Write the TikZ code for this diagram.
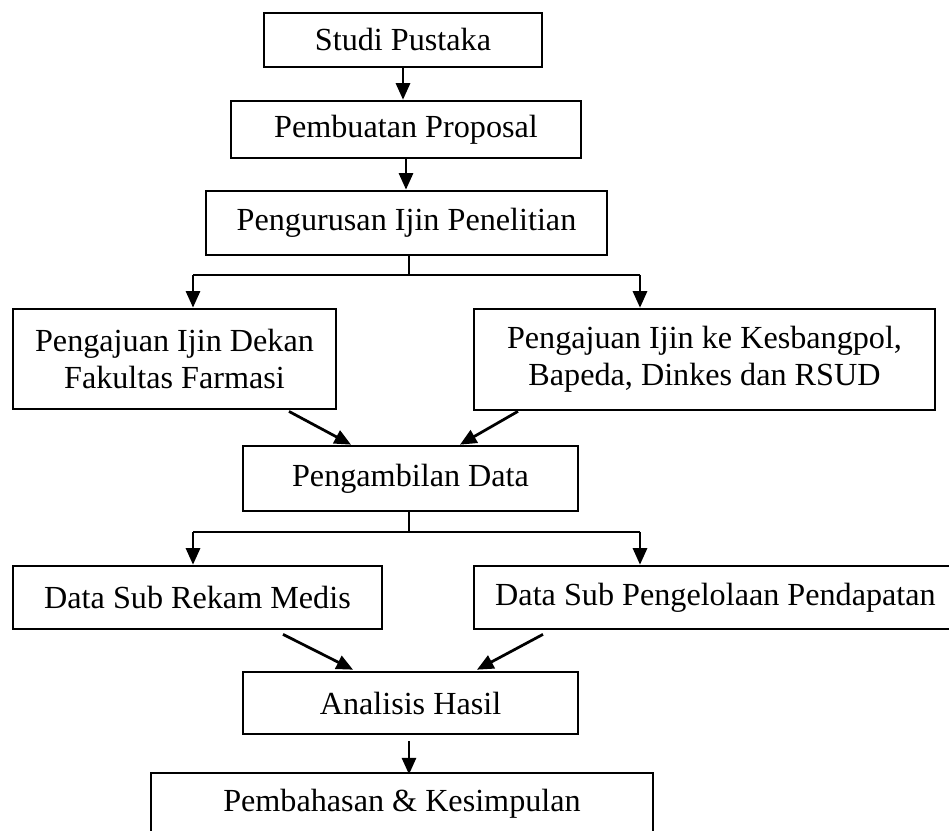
\documentclass[tikz,border=0pt]{standalone}
\usepackage{fontspec}
\setmainfont{Liberation Serif}
\usetikzlibrary{arrows.meta,calc}
\tikzset{
    box/.style={draw, line width=1pt, inner sep=0pt, align=center, font=\fontsize{11.7}{13.6}\selectfont},
    arr/.style={-{Triangle[length=6pt,width=5.2pt]}, line width=.75pt},
    darr/.style={arr, line width=1pt},
    thinline/.style={line width=.45pt}
}
\begin{document}
\begin{tikzpicture}[x=.3636pt, y=-.3636pt]
\useasboundingbox (0,0) rectangle (949,831);
\clip (0,0) rectangle (949,831);

\node[box, minimum width=101.1pt, minimum height=19.6pt](studi) at (403,40) {Studi Pustaka};
\node[box, minimum width=127.3pt, minimum height=20.7pt](proposal) at (406,129.5) {Pembuatan Proposal};
\node[box, minimum width=145.8pt, minimum height=23.3pt](ijin) at (406.5,223) {Pengurusan Ijin Penelitian};
\node[box, minimum width=117.4pt, minimum height=36.4pt](dekan) at (174.5,359) {Pengajuan Ijin Dekan\\Fakultas Farmasi};
\node[box, minimum width=167.6pt, minimum height=36.7pt](kesbang) at (704.5,359.5) {Pengajuan Ijin ke Kesbangpol,\\Bapeda, Dinkes dan RSUD};
\node[box, minimum width=121.8pt, minimum height=23.6pt](ambil) at (410.5,478.5) {Pengambilan Data};
\node[box, minimum width=134.2pt, minimum height=22.9pt](rekam) at (197.5,597.5) {Data Sub Rekam Medis};
\node[box, minimum width=175.6pt, minimum height=22.9pt](kelola) at (715.5,597.5) {Data Sub Pengelolaan Pendapatan};
\node[box, minimum width=121.8pt, minimum height=22.5pt](analisis) at (410.5,703) {Analisis Hasil};
\node[box, minimum width=182.5pt, minimum height=22.5pt](bahas) at (402,804) {Pembahasan \& Kesimpulan};

\draw[arr](studi.south)--(studi.south |- proposal.north);
\draw[arr](proposal.south)--(proposal.south |- ijin.north);

\coordinate (ja) at (409,275);
\coordinate (jal) at (193,275);
\coordinate (jar) at (640,275);
\draw[thinline](ja |- ijin.south)--(ja);
\draw[thinline](jal)--(jar);
\draw[arr](jal)--(jal |- dekan.north);
\draw[arr](jar)--(jar |- kesbang.north);

\draw[darr]($(dekan.south)+(114.5,1)$)--($(ambil.north)+(-59.5,0)$);
\draw[darr]($(kesbang.south)+(-186.5,0)$)--($(ambil.north)+(49.5,0)$);

\coordinate (jb) at (409,532);
\coordinate (jbl) at (193,532);
\coordinate (jbr) at (640,532);
\draw[thinline](jb |- ambil.south)--(jb);
\draw[thinline](jbl)--(jbr);
\draw[arr](jbl)--(jbl |- rekam.north);
\draw[arr](jbr)--(jbr |- kelola.north);

\draw[darr]($(rekam.south)+(85.5,4)$)--($(analisis.north)+(-57.5,-1)$);
\draw[darr]($(kelola.south)+(-172.5,4)$)--($(analisis.north)+(66.5,-1)$);

\draw[arr]($(analisis.south)+(-1.5,6)$)--($(analisis.south)+(-1.5,39)$);
\end{tikzpicture}
\end{document}
